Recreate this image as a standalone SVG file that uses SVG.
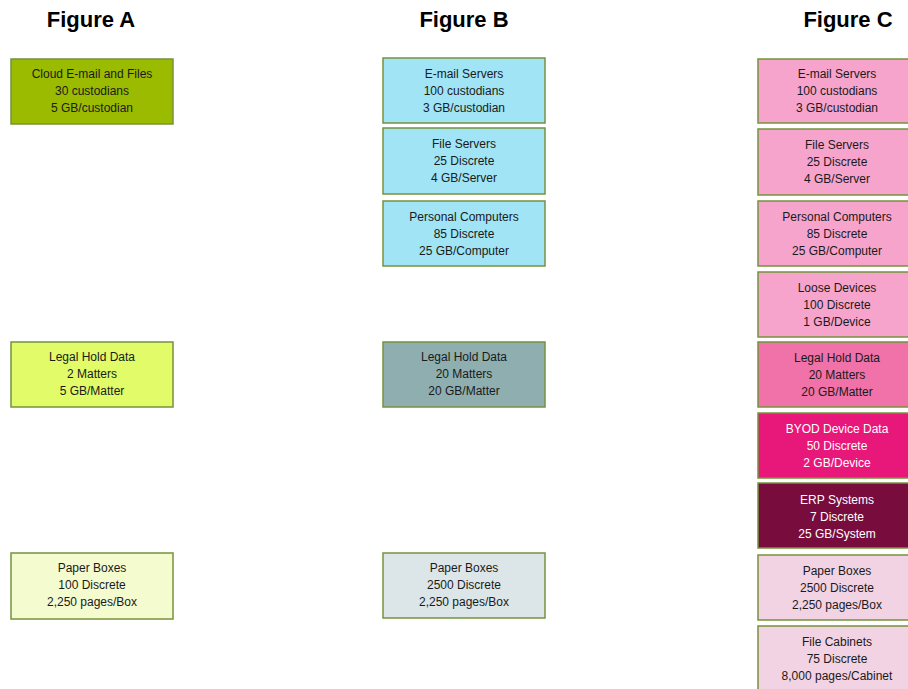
<svg xmlns="http://www.w3.org/2000/svg" width="908" height="689" viewBox="0 0 908 689">
<style>
.bg{fill:#ffffff}
.box{stroke:#76923c;stroke-width:1.5}
.title{font-family:"Liberation Sans",Arial,sans-serif;font-weight:bold;font-size:22px;fill:#000;text-anchor:middle}
.t{font-family:"Liberation Sans",Arial,sans-serif;font-size:12px;fill:#1a1a1a;text-anchor:middle}
.w{fill:#ffffff}
.cA1{fill:#9bbb00}.cA2{fill:#e1fb69}.cA3{fill:#f3fbcf}
.cB1{fill:#a0e4f5}.cB2{fill:#8eaeb0}.cB3{fill:#dce6e8}
.cC1{fill:#f7a4cc}.cC2{fill:#f072a8}.cC3{fill:#e8177a}.cC4{fill:#780c3c}.cC5{fill:#f1d3e4}
</style>
<rect class="bg" x="0" y="0" width="908" height="689"/>
<g id="titles">
<text class="title" x="91" y="27">Figure A</text>
<text class="title" x="464" y="27">Figure B</text>
<text class="title" x="848" y="27">Figure C</text>
</g>
<g id="a-cloud"><rect class="box cA1" x="11" y="59" width="162" height="65"/>
<text class="t" x="92" y="78">Cloud E-mail and Files</text><text class="t" x="92" y="95">30 custodians</text><text class="t" x="92" y="112">5 GB/custodian</text></g>
<g id="a-legal"><rect class="box cA2" x="11" y="342" width="162" height="65"/>
<text class="t" x="92" y="361">Legal Hold Data</text><text class="t" x="92" y="378">2 Matters</text><text class="t" x="92" y="395">5 GB/Matter</text></g>
<g id="a-paper"><rect class="box cA3" x="11" y="553" width="162" height="66"/>
<text class="t" x="92" y="572">Paper Boxes</text><text class="t" x="92" y="589">100 Discrete</text><text class="t" x="92" y="606">2,250 pages/Box</text></g>

<g id="b-email"><rect class="box cB1" x="383" y="58" width="162" height="65"/>
<text class="t" x="464" y="78">E-mail Servers</text><text class="t" x="464" y="95">100 custodians</text><text class="t" x="464" y="112">3 GB/custodian</text></g>
<g id="b-file"><rect class="box cB1" x="383" y="128" width="162" height="66"/>
<text class="t" x="464" y="148">File Servers</text><text class="t" x="464" y="165">25 Discrete</text><text class="t" x="464" y="182">4 GB/Server</text></g>
<g id="b-pc"><rect class="box cB1" x="383" y="201" width="162" height="65"/>
<text class="t" x="464" y="221">Personal Computers</text><text class="t" x="464" y="238">85 Discrete</text><text class="t" x="464" y="255">25 GB/Computer</text></g>
<g id="b-legal"><rect class="box cB2" x="383" y="342" width="162" height="65"/>
<text class="t" x="464" y="361">Legal Hold Data</text><text class="t" x="464" y="378">20 Matters</text><text class="t" x="464" y="395">20 GB/Matter</text></g>
<g id="b-paper"><rect class="box cB3" x="383" y="553" width="162" height="65"/>
<text class="t" x="464" y="572">Paper Boxes</text><text class="t" x="464" y="589">2500 Discrete</text><text class="t" x="464" y="606">2,250 pages/Box</text></g>

<g id="c-email"><rect class="box cC1" x="758" y="59" width="160" height="64"/>
<text class="t" x="837" y="78">E-mail Servers</text><text class="t" x="837" y="95">100 custodians</text><text class="t" x="837" y="112">3 GB/custodian</text></g>
<g id="c-file"><rect class="box cC1" x="758" y="129" width="160" height="66"/>
<text class="t" x="837" y="149">File Servers</text><text class="t" x="837" y="166">25 Discrete</text><text class="t" x="837" y="183">4 GB/Server</text></g>
<g id="c-pc"><rect class="box cC1" x="758" y="201" width="160" height="65"/>
<text class="t" x="837" y="221">Personal Computers</text><text class="t" x="837" y="238">85 Discrete</text><text class="t" x="837" y="255">25 GB/Computer</text></g>
<g id="c-loose"><rect class="box cC1" x="758" y="272" width="160" height="65"/>
<text class="t" x="837" y="292">Loose Devices</text><text class="t" x="837" y="309">100 Discrete</text><text class="t" x="837" y="326">1 GB/Device</text></g>
<g id="c-legal"><rect class="box cC2" x="758" y="342" width="160" height="65"/>
<text class="t" x="837" y="362">Legal Hold Data</text><text class="t" x="837" y="379">20 Matters</text><text class="t" x="837" y="396">20 GB/Matter</text></g>
<g id="c-byod"><rect class="box cC3" x="758" y="413" width="160" height="65"/>
<text class="t w" x="837" y="433">BYOD Device Data</text><text class="t w" x="837" y="450">50 Discrete</text><text class="t w" x="837" y="467">2 GB/Device</text></g>
<g id="c-erp"><rect class="box cC4" x="758" y="483" width="160" height="65"/>
<text class="t w" x="837" y="504">ERP Systems</text><text class="t w" x="837" y="521">7 Discrete</text><text class="t w" x="837" y="538">25 GB/System</text></g>
<g id="c-paper"><rect class="box cC5" x="758" y="555" width="160" height="65"/>
<text class="t" x="837" y="575">Paper Boxes</text><text class="t" x="837" y="592">2500 Discrete</text><text class="t" x="837" y="609">2,250 pages/Box</text></g>
<g id="c-cabinet"><rect class="box cC5" x="758" y="626" width="160" height="66"/>
<text class="t" x="837" y="646">File Cabinets</text><text class="t" x="837" y="663">75 Discrete</text><text class="t" x="837" y="680">8,000 pages/Cabinet</text></g>
</svg>
